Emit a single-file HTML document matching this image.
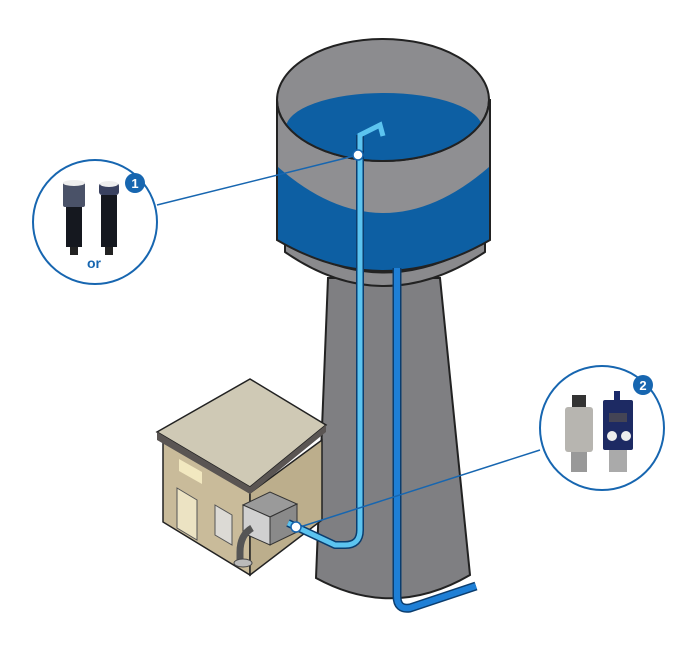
<!DOCTYPE html>
<html><head><style>html,body{margin:0;padding:0;background:#fff}svg{display:block}</style></head>
<body>
<svg width="697" height="652" viewBox="0 0 697 652" xmlns="http://www.w3.org/2000/svg" font-family="Liberation Sans, sans-serif">
<defs><clipPath id="rim"><ellipse cx="383" cy="100" rx="106" ry="61"/></clipPath></defs>
<!-- tower -->
<path d="M328 278 L440 278 L470 575 Q393 620 316 578 Z" fill="#7f7f82" stroke="#222" stroke-width="2"/>
<!-- tank bottom lip -->
<path d="M285 240 Q383 305 485 240 L485 252 Q383 320 285 252 Z" fill="#8a8a8d" stroke="#222" stroke-width="2"/>
<!-- tank body -->
<path d="M277 100 L277 240 Q383 302 490 240 L490 100 Z" fill="#0d5fa3" stroke="#222" stroke-width="2"/>
<!-- gray band front -->
<path d="M278 100 L278 167 Q383 259 489 167 L489 100 Z" fill="#8f8f92"/>
<!-- top ellipse inner -->
<ellipse cx="383" cy="100" rx="106" ry="61" fill="#8c8c8f" stroke="#222" stroke-width="2"/>
<!-- water surface -->
<ellipse cx="384" cy="128" rx="98" ry="35" fill="#0d5fa3" clip-path="url(#rim)"/>
<path d="M277 100 A106 61 0 0 0 489 100" fill="none" stroke="#222" stroke-width="2"/>
<!-- pipe 2 -->
<path d="M397 268 L397 596 Q397 610 410 608 L476 586" fill="none" stroke="#0b3d6e" stroke-width="9" stroke-linejoin="round"/>
<path d="M397 268 L397 596 Q397 610 410 608 L476 586" fill="none" stroke="#1e7fd6" stroke-width="6" stroke-linejoin="round"/>
<!-- building -->
<path d="M163 440 L250 493 L250 575 L163 522 Z" fill="#c9bb9a" stroke="#222" stroke-width="1.5"/>
<path d="M250 493 L322 440 L322 520 L250 575 Z" fill="#bcae8c" stroke="#222" stroke-width="1.5"/>
<path d="M250 379 L326 425 L250 487 L157 432 Z" fill="#cfc9b5" stroke="#222" stroke-width="1.5"/>
<path d="M157 432 L250 487 L326 425 L326 432 L250 494 L157 440 Z" fill="#5a5553"/>
<path d="M179 459 L202 472 L202 484 L179 471 Z" fill="#f2e8c0"/>
<path d="M177 488 L197 500 L197 540 L177 528 Z" fill="#ece3c3" stroke="#555"/>
<path d="M215 505 L232 515 L232 545 L215 535 Z" fill="#dcdad5" stroke="#555"/>
<!-- box -->
<path d="M243 505 L270 492 L297 504 L270 517 Z" fill="#9a9a9a" stroke="#333"/>
<path d="M243 505 L270 517 L270 545 L243 533 Z" fill="#d0d0d0" stroke="#333"/>
<path d="M270 517 L297 504 L297 532 L270 545 Z" fill="#8a8a8a" stroke="#333"/>
<path d="M252 528 Q240 535 240 552 L240 560" fill="none" stroke="#555" stroke-width="7"/>
<ellipse cx="243" cy="563" rx="9" ry="4" fill="#bbb" stroke="#444"/>
<!-- pipe 1 -->
<path d="M360 135 L360 530 Q360 545 345 545 L335 545 L288 523" fill="none" stroke="#0b3d6e" stroke-width="8" stroke-linejoin="round"/>
<path d="M360 135 L360 530 Q360 545 345 545 L335 545 L288 523" fill="none" stroke="#5cc4f0" stroke-width="5" stroke-linejoin="round"/>
<path d="M360 140 L360 135 L380 125 L383 136" fill="none" stroke="#5cc4f0" stroke-width="5"/>
<!-- callout lines -->
<line x1="157" y1="205" x2="358" y2="155" stroke="#1766b0" stroke-width="1.5"/>
<line x1="300" y1="527" x2="540" y2="450" stroke="#1766b0" stroke-width="1.5"/>
<circle cx="358" cy="155" r="5" fill="#fff" stroke="#1766b0" stroke-width="1.5"/>
<circle cx="296" cy="527" r="5" fill="#fff" stroke="#1766b0" stroke-width="1.5"/>
<!-- circle 1 -->
<circle cx="95" cy="222" r="62" fill="#fff" stroke="#1766b0" stroke-width="2"/>
<rect x="63" y="182" width="22" height="25" rx="2" fill="#4a5268"/>
<ellipse cx="74" cy="183" rx="11" ry="3" fill="#eee"/>
<rect x="66" y="207" width="16" height="40" fill="#15181f"/>
<rect x="70" y="247" width="8" height="8" fill="#222"/>
<rect x="99" y="183" width="20" height="12" rx="3" fill="#3a4260"/>
<ellipse cx="109" cy="184" rx="9" ry="3" fill="#eee"/>
<rect x="101" y="195" width="16" height="52" fill="#15181f"/>
<rect x="105" y="247" width="8" height="8" fill="#222"/>
<text x="87" y="268" font-size="14" font-weight="bold" fill="#1766b0">or</text>
<circle cx="135" cy="183" r="10" fill="#1766b0"/>
<text x="135" y="188" font-size="13" font-weight="bold" fill="#fff" text-anchor="middle">1</text>
<!-- circle 2 -->
<circle cx="602" cy="428" r="62" fill="#fff" stroke="#1766b0" stroke-width="2"/>
<rect x="572" y="395" width="14" height="12" fill="#333"/>
<rect x="565" y="407" width="28" height="45" rx="3" fill="#b7b5b0"/>
<rect x="571" y="452" width="16" height="20" fill="#999"/>
<rect x="614" y="391" width="6" height="10" fill="#1a2a6a"/>
<rect x="603" y="400" width="30" height="50" rx="2" fill="#1d2a63"/>
<rect x="609" y="413" width="18" height="9" fill="#445"/>
<circle cx="612" cy="436" r="5" fill="#eee"/>
<circle cx="626" cy="436" r="5" fill="#eee"/>
<rect x="609" y="450" width="18" height="22" fill="#aaa"/>
<circle cx="643" cy="385" r="10" fill="#1766b0"/>
<text x="643" y="390" font-size="13" font-weight="bold" fill="#fff" text-anchor="middle">2</text>
</svg>
</body></html>
